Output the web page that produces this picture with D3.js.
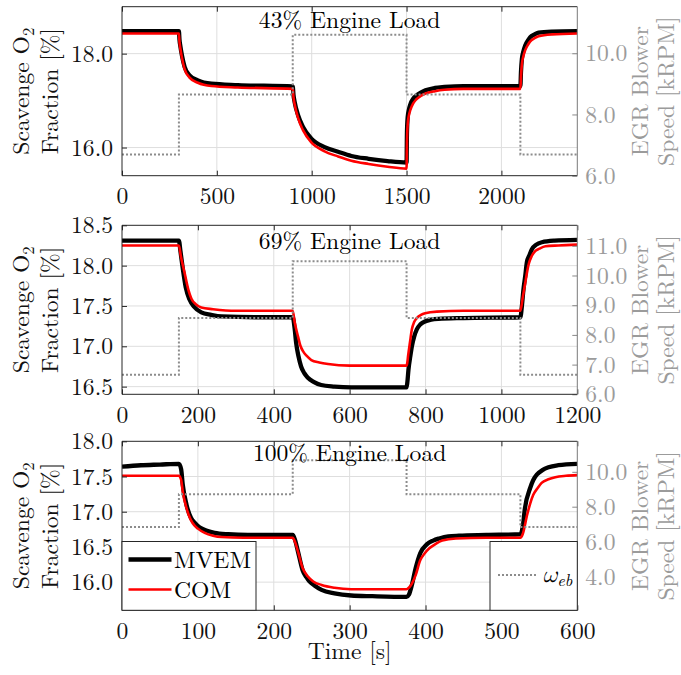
<!DOCTYPE html>
<html><head><meta charset="utf-8">
<script src="https://cdn.jsdelivr.net/npm/d3@7"></script>
<style>body{margin:0;background:#fff}svg{display:block}</style>
</head><body><svg id="c" width="681" height="675"></svg>
<script>
// ---------- DATA ----------
// 43% engine load
const mvemTime43 = [0,300,303,308,316,330,356,400,471,611,900,904,910,928,954,998,1068,1139,1209,1300,1400,1500,1502,1506,1512,1520,1535,1550,1575,1600,1650,1700,1800,2100,2103,2108,2116,2126,2140,2152,2175,2196,2266,2400];
const mvem43     = [18.48,18.48,18.30,18.15,17.96,17.72,17.54,17.43,17.36,17.33,17.30,17.12,16.97,16.69,16.44,16.19,16.01,15.91,15.82,15.76,15.71,15.68,16.30,16.65,16.80,16.92,17.04,17.10,17.17,17.22,17.27,17.29,17.31,17.31,17.60,17.89,18.05,18.18,18.28,18.35,18.41,18.45,18.47,18.48];
const comTime43  = [0,300,303,308,316,330,356,400,471,611,900,904,910,928,954,998,1068,1139,1209,1300,1400,1500,1502,1506,1512,1520,1535,1550,1575,1600,1650,1700,1800,2100,2103,2108,2116,2126,2140,2152,2175,2196,2266,2400];
const com43      = [18.43,18.43,18.25,18.10,17.91,17.67,17.49,17.38,17.31,17.28,17.25,17.07,16.92,16.63,16.37,16.11,15.92,15.81,15.72,15.65,15.59,15.55,16.10,16.50,16.68,16.80,16.94,17.02,17.10,17.15,17.20,17.23,17.25,17.25,17.50,17.78,17.95,18.08,18.19,18.26,18.33,18.37,18.41,18.43];
const blowerTime43 = [0,300,900,1500,2100,2400];
const blower43     = [6.69,8.65,10.60,8.65,6.69,6.69];

// 69% engine load
const mvemTime69 = [0,150,154,160,168,178,190,209,235,262,350,450,455,459,465,472,480,490,505,525,560,604,700,750,752,755,760,764,770,777,786,795,815,834,900,1050,1054,1058,1063,1067,1074,1080,1092,1107,1140,1200];
const mvem69     = [18.31,18.31,18.18,17.97,17.73,17.58,17.49,17.42,17.39,17.37,17.36,17.36,17.22,17.04,16.88,16.75,16.67,16.61,16.56,16.52,16.50,16.49,16.49,16.49,16.55,16.71,16.88,17.00,17.12,17.21,17.27,17.30,17.33,17.34,17.35,17.36,17.50,17.70,17.88,18.04,18.13,18.20,18.26,18.29,18.31,18.32];
const comTime69  = [0,150,155,165,175,183,195,209,240,300,450,455,464,470,477,487,499,520,543,600,750,752,754,759,764,770,777,788,799,830,900,1050,1056,1063,1068,1072,1080,1089,1100,1116,1150,1200];
const com69      = [18.25,18.25,18.12,17.91,17.70,17.59,17.52,17.48,17.46,17.44,17.44,17.30,17.12,17.01,16.94,16.88,16.83,16.80,16.78,16.76,16.76,16.80,16.88,17.05,17.21,17.30,17.35,17.39,17.41,17.43,17.44,17.44,17.60,17.79,17.93,18.02,18.12,18.18,18.21,18.24,18.25,18.26];
const blowerTime69 = [0,150,450,750,1050,1200];
const blower69     = [6.66,8.57,10.48,8.57,6.66,6.66];

// 100% engine load
const mvemTime100 = [0,25,50,75,78,80,85,91,96,102,112,122,140,166,225,228,232,238,243,247,254,263,280,302,330,375,378,382,387,393,402,410,418,430,444,480,525,528,531,538,542,547,554,562,575,600];
const mvem100     = [17.64,17.66,17.67,17.68,17.60,17.39,17.10,16.91,16.84,16.78,16.73,16.70,16.68,16.67,16.67,16.60,16.43,16.17,16.07,16.01,15.95,15.89,15.84,15.81,15.80,15.79,15.82,15.96,16.20,16.41,16.54,16.59,16.62,16.65,16.66,16.67,16.68,16.78,17.05,17.34,17.45,17.53,17.59,17.63,17.66,17.68];
const comTime100  = [0,75,78,80,85,88,93,100,109,120,131,160,225,228,232,238,245,252,263,280,302,375,378,382,387,393,399,405,413,422,440,480,525,528,534,538,542,548,553,562,571,585,600];
const com100      = [17.51,17.51,17.45,17.29,17.05,16.95,16.84,16.76,16.70,16.66,16.64,16.63,16.63,16.57,16.43,16.20,16.08,16.01,15.96,15.92,15.90,15.90,15.92,15.98,16.10,16.31,16.41,16.48,16.54,16.59,16.62,16.63,16.63,16.68,16.96,17.12,17.24,17.34,17.41,17.46,17.49,17.51,17.52];
const blowerTime100 = [0,75,225,375,525,600];
const blower100     = [6.83,8.72,10.66,8.72,6.83,6.83];

// tick labels
const xTicks43 = [0,500,1000,1500,2000];
const xTicks69 = [0,200,400,600,800,1000,1200];
const xTicks100 = [0,100,200,300,400,500,600];
const yTicks43 = [16.0,18.0];
const yTicks69 = [16.5,17.0,17.5,18.0,18.5];
const yTicks100 = [16.0,16.5,17.0,17.5,18.0];
const rTicks43 = [6.0,8.0,10.0];
const rTicks69 = [6.0,7.0,8.0,9.0,10.0,11.0];
const rTicks100 = [4.0,6.0,8.0,10.0];
const titles = ["43% Engine Load","69% Engine Load","100% Engine Load"];
const legendLabels = ["MVEM","COM"];

// ---------- LAYOUT ----------
const FONT = "'Latin Modern Roman','Liberation Serif',serif";
const FS = 23.6;
const L = 122, R = 577.3, PH = 169;
const AX = "#262626", GRAY = "#9b9b9b", GRID = "#dedede";

const panels = [
  {top:6.7, xMax:2400, yDom:[15.4,19.0], rDom:[6,11.52], xT:xTicks43, yT:yTicks43, rT:rTicks43,
   mt:mvemTime43, mv:mvem43, ct:comTime43, cv:com43, bt:blowerTime43, bv:blower43, title:titles[0], titleY:28},
  {top:225.3, xMax:1200, yDom:[16.405,18.5], rDom:[6,11.69], xT:xTicks69, yT:yTicks69, rT:rTicks69,
   mt:mvemTime69, mv:mvem69, ct:comTime69, cv:com69, bt:blowerTime69, bv:blower69, title:titles[1], titleY:249},
  {top:441.3, xMax:600, yDom:[15.6,18.0], rDom:[2.06,11.75], xT:xTicks100, yT:yTicks100, rT:rTicks100,
   mt:mvemTime100, mv:mvem100, ct:comTime100, cv:com100, bt:blowerTime100, bv:blower100, title:titles[2], titleY:461}
];

const svg = d3.select("#c").style("font-family", FONT);
const defs = svg.append("defs");

panels.forEach((p, i) => {
  const T = p.top, B = p.top + PH;
  const x = d3.scaleLinear().domain([0, p.xMax]).range([L, R]);
  const y = d3.scaleLinear().domain(p.yDom).range([B, T]);
  const yr = d3.scaleLinear().domain(p.rDom).range([B, T]);
  const g = svg.append("g");

  defs.append("clipPath").attr("id", "clip" + i)
    .append("rect").attr("x", L).attr("y", T).attr("width", R - L).attr("height", PH);

  // grid
  g.append("g").selectAll("line").data(p.xT.filter(d => d > 0 && d < p.xMax)).join("line")
    .attr("x1", d => x(d)).attr("x2", d => x(d)).attr("y1", T).attr("y2", B)
    .attr("stroke", GRID).attr("stroke-width", 1);
  g.append("g").selectAll("line").data(p.yT.filter(d => y(d) > T + 0.5 && y(d) < B - 0.5)).join("line")
    .attr("x1", L).attr("x2", R).attr("y1", d => y(d)).attr("y2", d => y(d))
    .attr("stroke", GRID).attr("stroke-width", 1);

  // lines
  const lc = g.append("g").attr("clip-path", `url(#clip${i})`);
  const lineL = d3.line().x(d => x(d[0])).y(d => y(d[1])).curve(d3.curveMonotoneX);
  const lineB = d3.line().x(d => x(d[0])).y(d => yr(d[1])).curve(d3.curveStepAfter);
  lc.append("path").datum(d3.zip(p.mt, p.mv)).attr("d", lineL)
    .attr("fill", "none").attr("stroke", "#000").attr("stroke-width", 4.3).attr("stroke-linejoin", "round");
  lc.append("path").datum(d3.zip(p.ct, p.cv)).attr("d", lineL)
    .attr("fill", "none").attr("stroke", "#ff0000").attr("stroke-width", 2.6).attr("stroke-linejoin", "round");
  lc.append("path").datum(d3.zip(p.bt, p.bv)).attr("d", lineB)
    .attr("fill", "none").attr("stroke", "#8c8c8c").attr("stroke-width", 2).attr("stroke-dasharray", "2,2");

  // axes
  const ax = g.append("g");
  const bottom = ax.append("g").attr("transform", `translate(0,${B})`)
    .call(d3.axisBottom(x).tickValues(p.xT).tickSizeInner(-5).tickSizeOuter(0).tickPadding(12).tickFormat(d3.format("d")));
  const top = ax.append("g").attr("transform", `translate(0,${T})`)
    .call(d3.axisTop(x).tickValues(p.xT).tickSizeInner(-5).tickSizeOuter(0).tickFormat(""));
  const left = ax.append("g").attr("transform", `translate(${L},0)`)
    .call(d3.axisLeft(y).tickValues(p.yT).tickSizeInner(-5).tickSizeOuter(0).tickPadding(9).tickFormat(d3.format(".1f")));
  const right = ax.append("g").attr("transform", `translate(${R},0)`)
    .call(d3.axisRight(yr).tickValues(p.rT).tickSizeInner(-5).tickSizeOuter(0).tickPadding(8).tickFormat(d3.format(".1f")));
  [bottom, top, left, right].forEach(a => a.attr("font-family", null).attr("font-size", null));
  [bottom, top, left].forEach(a => {
    a.select(".domain").remove();
    a.selectAll("line").attr("stroke", AX);
    a.selectAll("text").attr("fill", "#111").style("font-size", FS + "px").style("font-family", FONT);
  });
  right.select(".domain").remove();
  right.selectAll("line").attr("stroke", "#888");
  right.selectAll("text").attr("fill", GRAY).style("font-size", FS + "px").style("font-family", FONT);

  // box
  g.append("path").attr("d", `M${R},${T}H${L}V${B}H${R}`).attr("fill", "none").attr("stroke", AX).attr("stroke-width", 1);
  g.append("line").attr("x1", R).attr("x2", R).attr("y1", T).attr("y2", B).attr("stroke", "#7a7a7a").attr("stroke-width", 1);

  // title
  g.append("text").attr("x", (L + R) / 2).attr("y", p.titleY).attr("text-anchor", "middle")
    .style("font-size", FS + "px").style("font-family", FONT).attr("fill", "#000").text(p.title);

  // y labels
  const cy = T + PH / 2;
  const yl = g.append("text").attr("transform", `translate(29,${cy}) rotate(-90)`).attr("text-anchor", "middle")
    .style("font-size", FS + "px").style("font-family", FONT).attr("fill", "#111");
  yl.append("tspan").text("Scavenge O");
  yl.append("tspan").attr("dy", 5).style("font-size", (FS * 0.7) + "px").text("2");
  g.append("text").attr("transform", `translate(58,${cy}) rotate(-90)`).attr("text-anchor", "middle")
    .style("font-size", FS + "px").style("font-family", FONT).attr("fill", "#111").text("Fraction [%]");
  g.append("text").attr("transform", `translate(648,${cy}) rotate(-90)`).attr("text-anchor", "middle")
    .style("font-size", FS + "px").style("font-family", FONT).attr("fill", GRAY).text("EGR Blower");
  g.append("text").attr("transform", `translate(674,${cy}) rotate(-90)`).attr("text-anchor", "middle")
    .style("font-size", FS + "px").style("font-family", FONT).attr("fill", GRAY).text("Speed [kRPM]");

  if (i === 2) {
    // left legend
    const lg = g.append("g");
    lg.append("rect").attr("x", L).attr("y", 541.5).attr("width", 256 - L).attr("height", B - 541.5)
      .attr("fill", "#fff").attr("stroke", AX).attr("stroke-width", 1);
    const items = [{lab: legendLabels[0], c: "#000", w: 4.3, yy: 559.5}, {lab: legendLabels[1], c: "#ff0000", w: 2.6, yy: 589.5}];
    items.forEach(it => {
      lg.append("line").attr("x1", 128.5).attr("x2", 171.5).attr("y1", it.yy).attr("y2", it.yy)
        .attr("stroke", it.c).attr("stroke-width", it.w);
      lg.append("text").attr("x", 174).attr("y", it.yy).attr("dy", "0.35em").style("font-size", FS + "px")
        .style("font-family", FONT).attr("fill", "#000").text(it.lab);
    });
    // right legend
    const rg = g.append("g");
    rg.append("rect").attr("x", 490).attr("y", 541.5).attr("width", R - 490).attr("height", B - 541.5)
      .attr("fill", "#fff").attr("stroke", AX).attr("stroke-width", 1);
    rg.append("line").attr("x1", 498).attr("x2", 537).attr("y1", 575).attr("y2", 575)
      .attr("stroke", "#8c8c8c").attr("stroke-width", 2).attr("stroke-dasharray", "2,2");
    const wt = rg.append("text").attr("x", 542).attr("y", 575).attr("dy", "0.3em")
      .style("font-size", FS + "px").style("font-style", "italic")
      .style("font-family", "'Latin Modern Math','Latin Modern Roman','Liberation Serif',serif").attr("fill", "#000");
    wt.append("tspan").text("ω");
    wt.append("tspan").attr("dy", 4).style("font-size", (FS * 0.7) + "px").style("font-family", FONT).text("eb");
  }
});

// x label
svg.append("text").attr("x", (L + R) / 2).attr("y", 659).attr("text-anchor", "middle")
  .style("font-size", FS + "px").style("font-family", FONT).attr("fill", "#111").text("Time [s]");
</script>
</body></html>
